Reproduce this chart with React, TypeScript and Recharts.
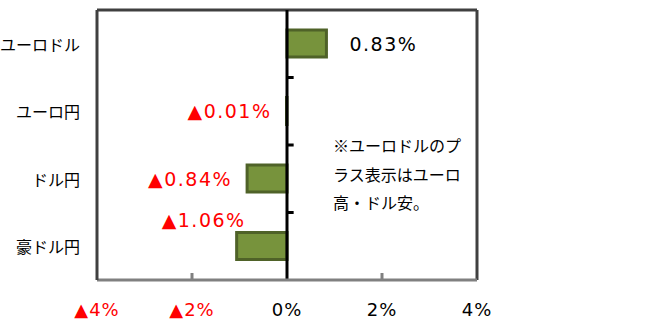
import { BarChart, Bar, XAxis, YAxis, ReferenceLine, LabelList } from "recharts";

const PAIRS = ["ユーロドル", "ユーロ円", "ドル円", "豪ドル円"];
const CHANGES = [0.83, -0.01, -0.84, -1.06];
const X_TICKS = [-4, -2, 0, 2, 4];
const INNER_TICKS = [-2, 2];
const NOTE_LINES = ["※ユーロドルのプ", "ラス表示はユーロ", "高・ドル安。"];

const RED = "#FF0000";
const NUM_FONT = "'DejaVu Sans', 'Noto Sans CJK JP', sans-serif";
const JP_FONT = "'Noto Sans CJK JP', sans-serif";

const data = PAIRS.map((name, i) => ({ name, value: CHANGES[i] }));

function fmt(v: number, digits: number) {
  const s = `${Math.abs(v).toFixed(digits)}%`;
  return v < 0 ? `▲${s}` : s;
}

function XTick({ x, y, payload }: any) {
  const v = payload.value as number;
  return (
    <text
      x={x}
      y={y + 29}
      textAnchor="middle"
      dominantBaseline="central"
      fontSize={18}
      fontFamily={NUM_FONT}
      letterSpacing={1}
      fill={v < 0 ? RED : "#000"}
    >
      {fmt(v, 0)}
    </text>
  );
}

function YTick({ x, y, payload }: any) {
  return (
    <text x={x} y={y} textAnchor="end" dominantBaseline="central" fontSize={16} fontFamily={JP_FONT} fill="#000">
      {payload.value}
    </text>
  );
}

function BarLabel({ x, y, width, height, value, index }: any) {
  const left = Math.min(x, x + width);
  const right = Math.max(x, x + width);
  const cy = y + height / 2;
  const common = { fontSize: 19, fontFamily: NUM_FONT, letterSpacing: 1.5, dominantBaseline: "central" as const };
  if (value >= 0) {
    return (
      <text x={right + 23} y={cy} textAnchor="start" fill="#000" {...common}>
        {fmt(value, 2)}
      </text>
    );
  }
  // last one sits above its bar, like the original
  if (index === PAIRS.length - 1) {
    return (
      <text x={left + 9} y={y - 13} textAnchor="end" fill={RED} {...common}>
        {fmt(value, 2)}
      </text>
    );
  }
  return (
    <text x={left - 15} y={cy} textAnchor="end" fill={RED} {...common}>
      {fmt(value, 2)}
    </text>
  );
}

export default function App() {
  return (
    <div style={{ position: "absolute", left: 0, top: 0, width: 654, height: 324, background: "#fff" }}>
      <BarChart
        width={654}
        height={324}
        data={data}
        layout="vertical"
        margin={{ top: 10, right: 177, bottom: 0, left: 0 }}
        barCategoryGap={0}
      >
        <XAxis
          type="number"
          domain={[-4, 4]}
          ticks={X_TICKS}
          allowDataOverflow
          height={44}
          tickSize={0}
          tickMargin={0}
          tickLine={false}
          axisLine={{ stroke: "#808080", strokeWidth: 3 }}
          tick={<XTick />}
          interval={0}
        />
        <YAxis
          type="category"
          dataKey="name"
          width={97}
          tickSize={0}
          tickMargin={17}
          tickLine={false}
          axisLine={{ stroke: "#404040", strokeWidth: 3 }}
          tick={<YTick />}
        />
        <ReferenceLine y={PAIRS[0]} position="start" stroke="#404040" strokeWidth={3} />
        <ReferenceLine x={4} stroke="#404040" strokeWidth={3} />
        {INNER_TICKS.map((t) => (
          <ReferenceLine key={t} x={t} stroke="#808080" strokeWidth={3} strokeDasharray="7 1000" />
        ))}
        <Bar
          dataKey="value"
          fill="#77933C"
          stroke="#4F6228"
          strokeWidth={3}
          barSize={27}
          isAnimationActive={false}
        >
          <LabelList dataKey="value" content={<BarLabel />} />
        </Bar>
        <ReferenceLine x={0} stroke="#000" strokeWidth={3} />
        {PAIRS.slice(0, -1).map((p) => (
          <ReferenceLine
            key={p}
            position="end"
            segment={[
              { x: 0, y: p },
              { x: 0.14, y: p },
            ]}
            stroke="#000"
            strokeWidth={3}
          />
        ))}
      </BarChart>
      <div
        style={{
          position: "absolute",
          left: 333,
          top: 131,
          fontSize: 16,
          lineHeight: "28.5px",
          fontFamily: JP_FONT,
          color: "#000",
          whiteSpace: "nowrap",
        }}
      >
        {NOTE_LINES.map((l) => (
          <div key={l}>{l}</div>
        ))}
      </div>
    </div>
  );
}
